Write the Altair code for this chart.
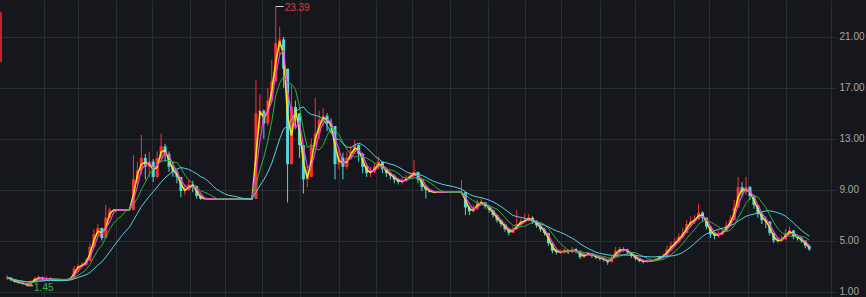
import altair as alt
import pandas as pd

# ---- data (one candle per step) ----
closes = [
    2.1, 1.9, 1.75, 1.7, 1.6, 1.5, 1.8, 2.0, 2.1, 1.95,
    2.05, 1.95, 1.9, 1.95, 1.9, 1.95, 2.0, 2.8, 3.0, 3.1,
    3.4, 4.5, 5.5, 6.0, 5.2, 6.8, 7.4, 7.4, 7.4, 7.4,
    7.4, 7.4, 9.8, 10.5, 11.5, 10.8, 11.2, 10.0, 11.5, 12.4,
    11.8, 10.8, 10.4, 10.0, 8.9, 9.0, 9.4, 9.3, 8.5, 8.3,
    8.27, 8.27, 8.27, 8.27, 8.27, 8.27, 8.27, 8.27, 8.27, 8.27,
    8.27, 8.27, 8.27, 15.0, 15.2, 14.2, 16.0, 17.5, 20.5, 20.8,
    18.5, 11.0, 15.5, 15.0, 12.5, 9.8, 10.0, 12.5, 13.4, 14.5,
    14.8, 14.2, 14.0, 11.0, 11.5, 10.8, 11.5, 12.0, 12.5, 11.8,
    10.8, 10.3, 10.4, 10.8, 11.2, 10.6, 10.3, 10.1, 9.8, 9.6,
    9.7, 9.9, 10.1, 10.4, 9.8, 9.2, 9.0, 8.8, 8.8, 8.8,
    8.8, 8.8, 8.8, 8.8, 8.8, 8.8, 7.6, 7.3, 7.5, 8.0,
    8.0, 7.7, 7.4, 7.0, 6.6, 6.3, 5.9, 5.6, 5.9, 6.3,
    6.5, 6.6, 6.8, 6.5, 6.2, 5.9, 5.6, 4.8, 4.2, 4.1,
    4.1, 4.2, 4.1, 4.3, 4.2, 3.7, 3.9, 4.0, 3.8, 3.7,
    3.6, 3.5, 3.3, 3.7, 4.2, 4.3, 4.3, 4.1, 3.8, 3.6,
    3.4, 3.35, 3.4, 3.4, 3.5, 3.7, 3.8, 4.3, 4.6, 4.9,
    5.3, 5.6, 6.3, 6.5, 6.7, 7.2, 6.8, 6.1, 5.5, 5.4,
    5.5, 5.7, 6.2, 6.6, 7.6, 9.2, 8.8, 9.2, 8.5, 7.8,
    7.1, 6.6, 6.5, 5.6, 5.0, 5.0, 5.1, 5.6, 5.8, 5.3,
    5.2, 5.0, 4.6, 4.3,
]
highs = [
    2.3, 2.05, 1.9, 1.8, 1.72, 1.6, 1.9, 2.15, 2.25, 2.15,
    2.2, 2.1, 2.0, 2.05, 2.0, 2.0, 2.1, 3.0, 3.2, 3.3,
    3.6, 4.8, 5.9, 6.3, 6.0, 7.8, 7.6, 7.4, 7.4, 7.4,
    7.4, 7.4, 11.7, 11.2, 13.3, 11.8, 12.0, 11.4, 12.0, 13.4,
    12.6, 12.0, 11.2, 10.6, 10.0, 9.4, 9.8, 9.7, 9.3, 8.6,
    8.27, 8.27, 8.27, 8.27, 8.27, 8.27, 8.27, 8.27, 8.27, 8.27,
    8.27, 8.27, 8.27, 17.6, 16.5, 15.3, 17.0, 19.2, 23.39, 21.8,
    21.0, 18.5, 17.2, 16.0, 15.0, 12.5, 10.8, 13.0, 16.2, 15.2,
    15.4, 15.0, 14.6, 14.0, 12.3, 11.9, 12.0, 12.4, 12.9, 12.6,
    11.9, 10.9, 10.8, 11.1, 11.6, 11.2, 10.7, 10.4, 10.2, 9.9,
    10.0, 10.2, 10.4, 11.3, 10.4, 9.8, 9.3, 8.8, 8.8, 8.8,
    8.8, 8.8, 8.8, 8.8, 8.8, 9.75, 8.8, 7.7, 7.8, 8.2,
    8.3, 8.0, 7.8, 7.4, 7.0, 6.6, 6.3, 5.9, 6.1, 7.4,
    6.7, 7.1, 7.1, 6.9, 6.6, 6.3, 6.0, 5.6, 4.8, 4.3,
    4.3, 4.4, 4.3, 4.5, 4.4, 4.2, 4.0, 4.15, 4.0, 3.9,
    3.8, 3.7, 3.5, 3.8, 4.5, 4.5, 4.5, 4.35, 4.1, 3.8,
    3.6, 3.5, 3.5, 3.55, 3.6, 3.8, 4.0, 4.6, 4.9, 5.2,
    5.6, 6.0, 6.6, 6.9, 7.0, 7.9, 7.3, 6.8, 6.1, 5.7,
    5.8, 6.0, 6.5, 7.0, 8.2, 10.0, 9.6, 10.0, 9.3, 8.6,
    7.8, 7.2, 6.9, 6.5, 5.6, 5.3, 5.4, 5.9, 6.1, 5.8,
    5.4, 5.3, 5.0, 4.6,
]
lows = [
    1.9, 1.8, 1.7, 1.62, 1.55, 1.45, 1.5, 1.8, 1.95, 1.9,
    1.9, 1.9, 1.82, 1.85, 1.85, 1.88, 1.9, 2.0, 2.7, 2.9,
    3.0, 3.4, 4.4, 5.4, 5.0, 5.2, 6.8, 7.4, 7.4, 7.4,
    7.4, 7.4, 7.4, 9.4, 10.2, 9.8, 10.0, 9.6, 9.9, 11.4,
    11.2, 10.4, 10.0, 9.5, 8.4, 8.6, 8.9, 8.8, 8.3, 8.2,
    8.27, 8.27, 8.27, 8.27, 8.27, 8.27, 8.27, 8.27, 8.27, 8.27,
    8.27, 8.27, 8.27, 8.27, 13.8, 13.0, 14.0, 16.0, 17.5, 19.5,
    17.0, 8.0, 11.0, 13.8, 11.5, 8.7, 9.2, 10.0, 12.4, 13.0,
    14.0, 13.6, 13.4, 9.8, 10.6, 9.8, 10.6, 11.4, 11.8, 11.2,
    10.3, 10.0, 10.0, 10.3, 10.6, 10.3, 10.0, 9.8, 9.5, 9.4,
    9.4, 9.6, 9.8, 10.0, 9.5, 8.9, 8.3, 8.8, 8.8, 8.8,
    8.8, 8.8, 8.8, 8.8, 8.8, 8.8, 7.0, 7.0, 7.2, 7.4,
    7.8, 7.5, 7.2, 6.8, 6.4, 6.1, 5.7, 5.4, 5.6, 5.9,
    6.2, 6.4, 6.5, 6.3, 6.0, 5.7, 5.4, 4.6, 4.0, 3.9,
    3.95, 4.0, 3.95, 4.0, 4.0, 3.55, 3.6, 3.8, 3.65, 3.55,
    3.45, 3.35, 3.1, 3.3, 3.7, 4.0, 4.1, 3.9, 3.65, 3.45,
    3.3, 3.2, 3.25, 3.3, 3.35, 3.5, 3.6, 3.8, 4.2, 4.5,
    4.8, 5.2, 5.6, 6.1, 6.3, 6.6, 6.5, 5.9, 5.2, 5.1,
    5.2, 5.4, 5.7, 6.2, 6.6, 7.6, 8.4, 8.6, 8.2, 7.5,
    6.8, 6.3, 6.0, 5.4, 4.8, 4.8, 4.9, 5.1, 5.5, 5.1,
    5.0, 4.8, 4.4, 4.2,
]
opens = [closes[0]] + closes[:-1]

y_ticks = [1, 5, 9, 13, 17, 21]
x_grid = [9.25, 18, 27.5, 36.75, 46.25, 55.25, 64.5, 74.25, 84, 93.25,
          102.5, 112, 121.75, 131, 140.25, 150, 159, 168.75, 177.75,
          187.5, 197, 208.4]

# moving-average windows (in candles), colours and stroke widths
ma_specs = [(2, "#f2e31b", 1.6), (3, "#f03cf0", 1.2),
            (6, "#27b23a", 1.0), (13, "#56d4e4", 1.0)]

UP = "#ff3030"
DOWN = "#4fd8e0"
BG = "#15171c"
GRID = "#2a2d34"

df = pd.DataFrame({
    "i": list(range(len(closes))),
    "open": opens, "high": highs, "low": lows, "close": closes,
})

i_max = highs.index(max(highs))
i_min = lows.index(min(lows))
ann = pd.DataFrame({
    "i": [i_max, i_min],
    "i2": [i_max + 2, i_min + 1.6],
    "v": [max(highs), min(lows)],
    "label": [f"{max(highs):.2f}", f"{min(lows):.2f}"],
    "kind": ["max", "min"],
})

xs = alt.Scale(domain=[-0.5, 208.5], nice=False, zero=False)
ys = alt.Scale(domain=[0.568, 23.9], nice=False, zero=False)
xax = alt.Axis(values=x_grid, labels=False, ticks=False, domain=False,
               grid=True, gridColor=GRID, gridWidth=1, title=None)
yax = alt.Axis(orient="right", values=y_ticks, format=".2f", grid=True,
               gridColor=GRID, gridWidth=1, domain=False, ticks=False,
               labelColor="#a8a8a8", labelFontSize=10, labelPadding=3,
               labelFont="Liberation Sans", title=None)

base = alt.Chart(df)
col = alt.condition("datum.close >= datum.open", alt.value(UP), alt.value(DOWN))

wick = base.mark_rule(strokeWidth=1).encode(
    x=alt.X("i:Q", scale=xs, axis=xax),
    y=alt.Y("low:Q", scale=ys, axis=yax),
    y2="high:Q",
    color=col,
)
body = base.mark_bar(size=3).encode(
    x=alt.X("i:Q", scale=xs, axis=xax),
    y=alt.Y("open:Q", scale=ys, axis=yax),
    y2="close:Q",
    color=col,
)

layers = [wick, body]
for w, c, sw in ma_specs:
    layers.append(
        base.transform_window(
            ma="mean(close)", frame=[-(w - 1), 0], sort=[{"field": "i"}]
        ).mark_line(strokeWidth=sw, color=c, interpolate="linear").encode(
            x=alt.X("i:Q", scale=xs, axis=xax),
            y=alt.Y("ma:Q", scale=ys, axis=yax),
        )
    )

annb = alt.Chart(ann)
leader = annb.mark_rule(color="#d8d8d8", strokeWidth=1).encode(
    x=alt.X("i:Q", scale=xs, axis=xax),
    x2="i2:Q",
    y=alt.Y("v:Q", scale=ys, axis=yax),
)
labels = annb.mark_text(align="left", baseline="middle", dx=1, dy=2,
                        fontSize=10, font="Liberation Sans").encode(
    x=alt.X("i2:Q", scale=xs, axis=xax),
    y=alt.Y("v:Q", scale=ys, axis=yax),
    text="label:N",
    color=alt.Color("kind:N", scale=alt.Scale(domain=["max", "min"],
                    range=["#e0393e", "#35b54a"]), legend=None),
)

edge = alt.Chart(df).mark_rule(color="#c8202a", strokeWidth=2).encode(
    x=alt.value(1), y=alt.value(12), y2=alt.value(62)
).transform_filter("datum.i == 0")

chart = alt.layer(*layers, leader, labels, edge).properties(
    width=836, height=297,
    autosize=alt.AutoSizeParams(type="none"),
    padding={"left": 0, "top": 0, "right": 30, "bottom": 0},
).configure(background=BG).configure_view(strokeWidth=0)

chart.save("out.html", embed_options={"renderer": "svg", "actions": False})
